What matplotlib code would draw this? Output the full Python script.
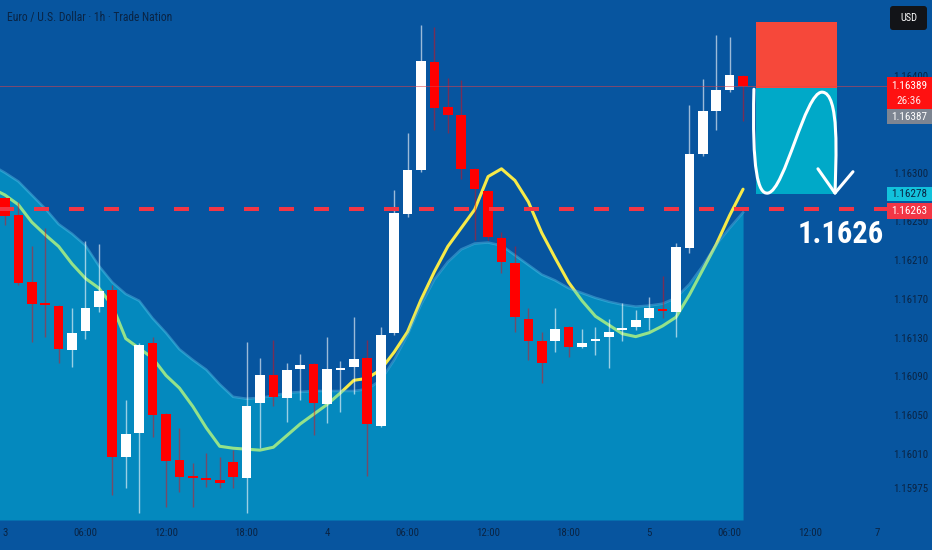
import numpy as np
import matplotlib
matplotlib.use("Agg")
import matplotlib.pyplot as plt
from matplotlib.patches import Rectangle, FancyBboxPatch, PathPatch
from matplotlib.path import Path
from matplotlib import font_manager

# ---------------- data (EUR/USD 1h candles) ----------------
opens = [1.16274, 1.16256, 1.16187, 1.16165, 1.16163, 1.16117, 1.16137, 1.16162, 1.16179, 1.16007,
         1.16032, 1.16124, 1.16051, 1.16004, 1.15987, 1.15985, 1.15983, 1.16002, 1.15985, 1.16063,
         1.16091, 1.16068, 1.16098, 1.16103, 1.16062, 1.16097, 1.16100, 1.16109, 1.16039, 1.16135,
         1.16257, 1.16303, 1.16414, 1.16368, 1.16359, 1.16304, 1.16281, 1.16233, 1.16207, 1.16149,
         1.16126, 1.16126, 1.16141, 1.16120, 1.16126, 1.16131, 1.16138, 1.16141, 1.16150, 1.16160,
         1.16156, 1.16222, 1.16319, 1.16364, 1.16385, 1.16400]
closes = [1.16255, 1.16186, 1.16165, 1.16164, 1.16118, 1.16135, 1.16161, 1.16178, 1.16007, 1.16031,
          1.16122, 1.16050, 1.16003, 1.15986, 1.15986, 1.15983, 1.15980, 1.15986, 1.16060, 1.16091,
          1.16069, 1.16097, 1.16102, 1.16063, 1.16098, 1.16099, 1.16108, 1.16041, 1.16133, 1.16258,
          1.16303, 1.16415, 1.16367, 1.16359, 1.16304, 1.16283, 1.16234, 1.16208, 1.16151, 1.16126,
          1.16104, 1.16139, 1.16120, 1.16124, 1.16129, 1.16136, 1.16140, 1.16148, 1.16161, 1.16157,
          1.16223, 1.16319, 1.16364, 1.16385, 1.16401, 1.16389]
highs = [1.16275, 1.16270, 1.16224, 1.16243, 1.16164, 1.16161, 1.16230, 1.16226, 1.16184, 1.16066,
         1.16124, 1.16131, 1.16052, 1.16037, 1.16001, 1.16011, 1.16007, 1.16014, 1.16125, 1.16109,
         1.16128, 1.16104, 1.16113, 1.16104, 1.16131, 1.16106, 1.16151, 1.16128, 1.16141, 1.16282,
         1.16341, 1.16452, 1.16450, 1.16398, 1.16396, 1.16305, 1.16282, 1.16239, 1.16224, 1.16161,
         1.16136, 1.16161, 1.16142, 1.16139, 1.16141, 1.16149, 1.16166, 1.16158, 1.16172, 1.16194,
         1.16228, 1.16370, 1.16397, 1.16442, 1.16440, 1.16401]
lows = [1.16246, 1.16184, 1.16125, 1.16131, 1.16104, 1.16100, 1.16129, 1.16156, 1.15968, 1.15975,
        1.15949, 1.16028, 1.15955, 1.15971, 1.15955, 1.15976, 1.15975, 1.15975, 1.15949, 1.16016,
        1.16059, 1.16043, 1.16066, 1.16030, 1.16042, 1.16053, 1.16072, 1.15987, 1.16038, 1.16133,
        1.16254, 1.16301, 1.16344, 1.16341, 1.16293, 1.16231, 1.16231, 1.16197, 1.16136, 1.16107,
        1.16083, 1.16115, 1.16110, 1.16119, 1.16112, 1.16099, 1.16126, 1.16138, 1.16138, 1.16150,
        1.16131, 1.16217, 1.16317, 1.16344, 1.16383, 1.16353]

# moving average (yellow line) and upper envelope of the shaded area, from bar -1 onward
ma = [1.16284,
      1.16277, 1.16267, 1.16249, 1.16236, 1.16224, 1.16206, 1.16191, 1.16181, 1.16163, 1.16129,
      1.16119, 1.16109, 1.16091, 1.16078, 1.16059, 1.16037, 1.16018, 1.16016, 1.16015, 1.16014,
      1.16017, 1.16029, 1.16041, 1.16051, 1.16061, 1.16073, 1.16086, 1.16088, 1.16097, 1.16115,
      1.16136, 1.16169, 1.16198, 1.16224, 1.16243, 1.16262, 1.16296, 1.16304, 1.16292, 1.16270,
      1.16238, 1.16212, 1.16187, 1.16168, 1.16152, 1.16143, 1.16134, 1.16131, 1.16135, 1.16142,
      1.16151, 1.16174, 1.16200, 1.16226, 1.16256, 1.16283]
band = [1.16308,
        1.16300, 1.16291, 1.16277, 1.16263, 1.16247, 1.16237, 1.16225, 1.16204, 1.16187, 1.16175,
        1.16168, 1.16150, 1.16135, 1.16118, 1.16107, 1.16097, 1.16082, 1.16069, 1.16067, 1.16068,
        1.16070, 1.16073, 1.16074, 1.16075, 1.16075, 1.16075, 1.16075, 1.16077, 1.16086, 1.16107,
        1.16133, 1.16164, 1.16190, 1.16208, 1.16221, 1.16227, 1.16228, 1.16225, 1.16215, 1.16205,
        1.16195, 1.16189, 1.16181, 1.16176, 1.16171, 1.16167, 1.16164, 1.16162, 1.16163, 1.16165,
        1.16171, 1.16185, 1.16204, 1.16226, 1.16243, 1.16259]

xtick_pos = [0, 6, 12, 18, 24, 30, 36, 42, 48, 54, 60, 65]
xtick_labels = ["3", "06:00", "12:00", "18:00", "4", "06:00", "12:00", "18:00", "5", "06:00", "12:00", "7"]
ytick_vals = [1.16400, 1.16300, 1.16250, 1.16210, 1.16170, 1.16130, 1.16090, 1.16050, 1.16010, 1.15975]

last_price = 1.16389
countdown = "26:36"
bid_price = 1.16387
ma_last = 1.16278
level = 1.16263
level_text = "1.1626"

# short position tool
pos_start, pos_len = 56, 6
entry, stop, target = 1.16387, 1.16455, 1.16278

title = "Euro / U.S. Dollar \u00b7 1h \u00b7 Trade Nation"

# ---------------- style ----------------
BG = "#07559f"
NAVY = "#0a2444"
RED = "#ff0000"

avail = {f.name for f in font_manager.fontManager.ttflist}
narrow = next((n for n in ("Liberation Sans Narrow", "DejaVu Sans Condensed", "Roboto Condensed")
               if n in avail), None)
if narrow:
    plt.rcParams["font.family"] = [narrow, "DejaVu Sans"]
else:
    plt.rcParams["font.family"] = ["DejaVu Sans"]
    plt.rcParams["font.stretch"] = "condensed"
plt.rcParams["lines.scale_dashes"] = False

fig = plt.figure(figsize=(9.32, 5.5), dpi=100)
fig.patch.set_facecolor(BG)
ax = fig.add_axes([0, 30 / 550, 890 / 932, 520 / 550])
ax.set_facecolor(BG)
ax.set_xlim(-0.37, 65.95)
ax.set_ylim(1.15942, 1.16478)
for s in ax.spines.values():
    s.set_visible(False)

o = np.array(opens); c = np.array(closes); h = np.array(highs); l = np.array(lows)
x = np.arange(len(o))
up = c > o

# moving average first (it sits under the translucent area)
ma_x = np.arange(-1, len(ma) - 1)
ax.plot(ma_x, ma, color="#f7ea48", lw=2.2, zorder=1, solid_capstyle="round")

band_x = np.arange(-1, len(band) - 1)
ax.fill_between(band_x, band, 1.15942, color="#00d8ee", alpha=0.40, lw=0, zorder=2)
ax.plot(band_x, band, color="#5fcdf0", lw=1.8, alpha=0.4, zorder=2.1)

# candles
wick_cols = [(1, 1, 1, 0.6) if u else (1, 0, 0, 0.45) for u in up]
ax.vlines(x, l, h, colors=wick_cols, linewidth=1.0, zorder=3)
min_h = 0.000015
diff = np.abs(c - o)
body_h = np.maximum(diff, min_h)
body_b = np.minimum(o, c) - (body_h - diff) / 2
ax.bar(x, body_h, bottom=body_b, width=0.72, color=["white" if u else RED for u in up],
       linewidth=0, zorder=4)

# current price line
ax.axhline(last_price, color="#e0404a", lw=0.7, alpha=0.55, zorder=5)

# position tool boxes
ax.add_patch(Rectangle((pos_start, entry), pos_len, stop - entry, facecolor="#f6483a",
                       edgecolor="none", zorder=2.5))
ax.add_patch(Rectangle((pos_start, target), pos_len, entry - target, facecolor="#00a9c8",
                       edgecolor="none", zorder=2.5))

# hand-drawn S-curve with arrow
verts = [(55.81, 1.16386), (55.66, 1.16303), (56.11, 1.16277), (56.86, 1.16279),
         (58.12, 1.16282), (59.61, 1.16383), (60.88, 1.16383),
         (62.22, 1.16383), (61.92, 1.16313), (61.85, 1.16279)]
codes = [Path.MOVETO] + [Path.CURVE4] * 9
ax.add_patch(PathPatch(Path(verts, codes), facecolor="none", edgecolor="white", lw=2.2,
                       capstyle="round", zorder=7))
ax.plot([60.58, 61.85, 63.19], [1.16304, 1.16279, 1.16301], color="white", lw=2.2,
        solid_capstyle="round", solid_joinstyle="round", zorder=7)

# dashed key level
ax.plot([-0.52, 65.72], [level, level], color="#f23645", lw=2.9, dashes=(10.8, 14.4),
        zorder=6)
ax.text(62.30, 1.16237, level_text, color="white", fontsize=22 if narrow else 20,
        fontweight="bold", ha="center", va="center", zorder=8)

# axes ticks
ax.yaxis.tick_right()
ax.set_yticks(ytick_vals)
ax.set_yticklabels([f"{v:.5f}" for v in ytick_vals])
ax.tick_params(axis="y", length=0, pad=2.2, labelsize=7.8, labelcolor=NAVY)
ax.set_xticks(xtick_pos)
ax.set_xticklabels(xtick_labels)
ax.tick_params(axis="x", length=0, pad=6.0, labelsize=7.8, labelcolor=NAVY)

# ---------------- overlay in pixel coordinates for the chrome ----------------
ov = fig.add_axes([0, 0, 1, 1], zorder=10)
ov.set_xlim(0, 932)
ov.set_ylim(550, 0)
ov.axis("off")
ov.patch.set_alpha(0)


def py(price):
    return 550 - ax.transData.transform((0, price))[1]


fig.text(7 / 932, 1 - 17 / 550, title, ha="left", va="center", fontsize=8.4, color=NAVY)

ov.add_patch(FancyBboxPatch((890, 6), 37, 24, boxstyle="round,pad=0,rounding_size=3",
                            facecolor="#121418", edgecolor="none"))
ov.text(908.5, 18, "USD", color="white", fontsize=7.5, ha="center", va="center")

bx0, bw, tx = 887, 45, 909
fs = 8
yc = py(last_price)
ov.add_patch(Rectangle((bx0, yc - 9), bw, 32, facecolor="#ff1111", edgecolor="none"))
ov.text(tx, yc, f"{last_price:.5f}", color="white", fontsize=fs, ha="center", va="center")
ov.text(tx, yc + 15, countdown, color="#ffe8e8", fontsize=fs, ha="center", va="center")
ov.add_patch(Rectangle((bx0, yc + 23), bw, 15, facecolor="#7d8592", edgecolor="none"))
ov.text(tx, yc + 30.5, f"{bid_price:.5f}", color="white", fontsize=fs, ha="center", va="center")

yc = py(ma_last)
ov.add_patch(Rectangle((bx0, yc - 7), bw, 14, facecolor="#12c2dc", edgecolor="none"))
ov.text(tx, yc, f"{ma_last:.5f}", color=NAVY, fontsize=fs, ha="center", va="center")
yc = py(level) + 2
ov.add_patch(Rectangle((bx0, yc - 7.5), bw, 16, facecolor="#f23645", edgecolor="none"))
ov.text(tx, yc, f"{level:.5f}", color="white", fontsize=fs, ha="center", va="center")

fig.savefig("out.png", dpi=100, facecolor=BG)
